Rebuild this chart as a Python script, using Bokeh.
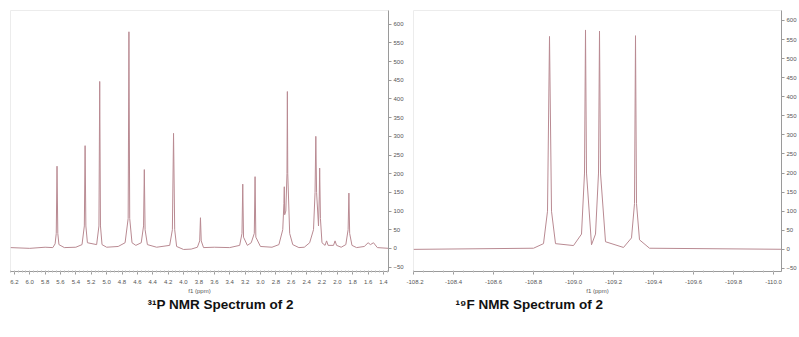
from bokeh.plotting import figure
from bokeh.models import Range1d, FixedTicker, PrintfTickFormatter, Title
from bokeh.layouts import row
from bokeh.embed import file_html
from bokeh.resources import INLINE
import numpy as np

# 31P spectrum trace (ppm, intensity)
p31_ppm = [6.25, 6.0, 5.8, 5.70, 5.67, 5.655, 5.645, 5.635, 5.62, 5.55, 5.40, 5.32, 5.29, 5.28, 5.27,
           5.25, 5.13, 5.10, 5.09, 5.08, 5.06, 5.0, 4.85, 4.76, 4.72, 4.71, 4.70, 4.67, 4.62, 4.55,
           4.52, 4.51, 4.50, 4.47, 4.35, 4.18, 4.145, 4.13, 4.115, 4.09, 4.0, 3.9, 3.82, 3.79, 3.78,
           3.77, 3.74, 3.6, 3.4, 3.27, 3.24, 3.23, 3.22, 3.17, 3.12, 3.08, 3.07, 3.06, 3.0, 2.85,
           2.76, 2.71, 2.695, 2.69, 2.685, 2.67, 2.655, 2.65, 2.645, 2.62, 2.58, 2.5, 2.43, 2.36,
           2.31, 2.29, 2.28, 2.27, 2.245, 2.235, 2.23, 2.22, 2.20, 2.16, 2.14, 2.12, 2.05, 2.03,
           2.01, 1.95, 1.89, 1.86, 1.85, 1.84, 1.81, 1.75, 1.65, 1.60, 1.57, 1.53, 1.48, 1.33]
p31_int = [2, 0, 3, 2, 12, 40, 220, 40, 10, 2, 3, 10, 60, 275, 60,
           15, 10, 60, 447, 60, 10, 3, 5, 15, 80, 580, 80, 15, 8, 15,
           60, 211, 50, 10, 3, 8, 50, 308, 50, 5, -3, -2, 3, 20, 82,
           20, 2, 3, 2, 8, 40, 172, 30, 8, 15, 40, 192, 30, 5, 3,
           10, 50, 120, 165, 90, 100, 200, 420, 200, 40, 10, 2, 3, 15,
           50, 150, 300, 150, 60, 140, 215, 80, 15, 8, 20, 8, 8, 20,
           8, 3, 10, 50, 148, 40, 8, 2, 5, 15, 10, 15, 2, 0]

# 19F spectrum trace (ppm, intensity)
f19_ppm = [-108.2, -108.8, -108.85, -108.87, -108.88, -108.89, -108.91, -109.0, -109.04, -109.055,
           -109.06, -109.065, -109.09, -109.11, -109.125, -109.13, -109.135, -109.16, -109.25,
           -109.29, -109.305, -109.31, -109.315, -109.33, -109.38, -110.1]
f19_int = [0, 3, 15, 100, 558, 100, 15, 10, 40, 200,
           575, 200, 12, 40, 200, 572, 200, 20, 5,
           30, 120, 560, 120, 25, 3, 0]

y_ticks = [600, 550, 500, 450, 400, 350, 300, 250, 200, 150, 100, 50, 0, -50]
p31_xticks = [6.2, 6.0, 5.8, 5.6, 5.4, 5.2, 5.0, 4.8, 4.6, 4.4, 4.2, 4.0, 3.8, 3.6, 3.4, 3.2,
              3.0, 2.8, 2.6, 2.4, 2.2, 2.0, 1.8, 1.6, 1.4]
f19_xticks = [-108.2, -108.4, -108.6, -108.8, -109.0, -109.2, -109.4, -109.6, -109.8, -110.0]

LINE = "#b98a92"
AX = "#9a9a9a"
LBL = "#555555"


def make(xr, yr, xt, xminor, fw, mbl, title, toff):
    p = figure(x_range=Range1d(*xr), y_range=Range1d(*yr), frame_width=fw, frame_height=261,
               y_axis_location="right", output_backend="svg", toolbar_location=None,
               min_border_left=mbl, min_border_top=10, min_border_right=0, min_border_bottom=60,
               background_fill_color="white", border_fill_color="white")
    p.outline_line_color = "#ececec"
    p.grid.visible = False
    p.xaxis.ticker = FixedTicker(ticks=xt, minor_ticks=xminor)
    p.xaxis.formatter = PrintfTickFormatter(format="%.1f")
    p.yaxis.ticker = FixedTicker(ticks=y_ticks)
    for ax in (p.xaxis, p.yaxis):
        ax.axis_line_color = AX
        ax.major_tick_line_color = AX
        ax.minor_tick_line_color = "#bbbbbb"
        ax.major_label_text_font = "Liberation Sans"
        ax.major_label_text_font_size = "6px"
        ax.major_label_text_color = LBL
        ax.major_tick_out = 3
        ax.major_tick_in = 0
        ax.minor_tick_out = 1
        ax.minor_tick_in = 1
        ax.major_label_standoff = 2
    p.xaxis.major_label_standoff = 5
    p.xaxis.axis_label = "f1 (ppm)"
    p.xaxis.axis_label_text_font = "Liberation Sans"
    p.xaxis.axis_label_text_font_size = "6px"
    p.xaxis.axis_label_text_font_style = "normal"
    p.xaxis.axis_label_text_color = LBL
    p.xaxis.axis_label_standoff = 1
    t = Title(text=title, align="left", offset=toff, text_font="Liberation Sans",
              text_font_size="13.5px", text_font_style="bold", text_color="#111111", standoff=-4)
    p.add_layout(t, "below")
    return p


p31_minor = list(np.round(np.arange(6.25, 1.33, -0.05), 2))
f19_minor = list(np.round(np.arange(-108.2, -110.05, -0.05), 2))

left = make((6.25, 1.335), (-62, 637), p31_xticks, p31_minor, 378, 10,
            "\u00b3\u00b9P NMR Spectrum  of 2", 137)
left.line(p31_ppm, p31_int, line_color=LINE, line_width=1)

right = make((-108.2, -110.04), (-58, 626), f19_xticks, f19_minor, 368, 7,
             "\u00b9\u2079F NMR Spectrum  of 2", 42)
right.line(f19_ppm, f19_int, line_color=LINE, line_width=1)

layout = row(left, right)
open("out.html", "w").write(file_html(layout, INLINE))
